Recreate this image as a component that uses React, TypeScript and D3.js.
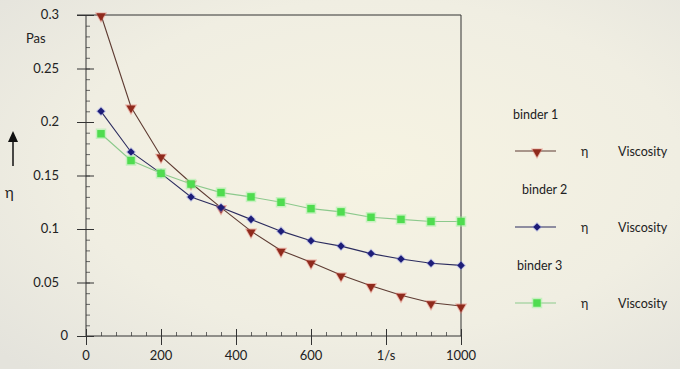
import { useEffect, useRef } from "react";
import { scaleLinear, line, select, axisLeft, axisBottom, range, symbol, symbolTriangle, symbolDiamond2, symbolSquare } from "d3";

const shearRates = [40, 120, 200, 280, 360, 440, 520, 600, 680, 760, 840, 920, 1000];
const binder1 = [0.3, 0.214, 0.168, 0.143, 0.12, 0.098, 0.08, 0.069, 0.057, 0.047, 0.038, 0.031, 0.028];
const binder2 = [0.21, 0.172, 0.152, 0.13, 0.12, 0.109, 0.098, 0.089, 0.084, 0.077, 0.072, 0.068, 0.066];
const binder3 = [0.189, 0.164, 0.152, 0.142, 0.134, 0.13, 0.125, 0.119, 0.116, 0.111, 0.109, 0.107, 0.107];
const xTicks = [0, 200, 400, 600, 800, 1000];
const xTickLabels = ["0", "200", "400", "600", "1/s", "1000"];
const yTicks = [0, 0.05, 0.1, 0.15, 0.2, 0.25, 0.3];
const yTickLabels = ["0", "0.05", "0.1", "0.15", "0.2", "0.25", "0.3"];
const seriesNames = ["binder 1", "binder 2", "binder 3"];

const FONT = "Lato, 'Open Sans', sans-serif";
const W = 680;
const H = 369;

const x = scaleLinear().domain([0, 1000]).range([86, 461]);
const y = scaleLinear().domain([0, 0.3]).range([336, 15]);

const series = [
  { name: seriesNames[0], values: binder1, line: "#5e3b32", fill: "#8f2a1c", glow: "#e0645a", shape: "tri" },
  { name: seriesNames[1], values: binder2, line: "#2b2b5e", fill: "#1d1d78", glow: "#7e86e8", shape: "dia" },
  { name: seriesNames[2], values: binder3, line: "#8cc98c", fill: "#4fdc4f", glow: "#9cf29c", shape: "sq" },
];

function Marker({ shape, cx, cy, fill, glow }) {
  let d;
  if (shape === "tri") {
    d = symbol(symbolTriangle, 36)();
    return (
      <g transform={`translate(${cx},${cy + 1}) rotate(180)`}>
        <path d={d} fill={glow} opacity={0.45} transform="scale(1.35)" />
        <path d={d} fill={fill} />
      </g>
    );
  }
  if (shape === "dia") {
    d = symbol(symbolDiamond2, 36)();
    return (
      <g transform={`translate(${cx},${cy})`}>
        <path d={d} fill={glow} opacity={0.4} transform="scale(1.35)" />
        <path d={d} fill={fill} />
      </g>
    );
  }
  d = symbol(symbolSquare, 56)();
  return (
    <g transform={`translate(${cx},${cy})`}>
      <path d={d} fill={glow} opacity={0.5} transform="scale(1.4)" />
      <path d={d} fill={fill} />
    </g>
  );
}

function YAxis() {
  const ref = useRef(null);
  useEffect(() => {
    const g = select(ref.current);
    g.selectAll("*").remove();
    // minor ticks (inside)
    g.append("g")
      .call(axisLeft(y).tickValues(range(0, 0.301, 0.01)).tickSize(-4).tickFormat(() => ""))
      .call((s) => s.select(".domain").remove())
      .selectAll("line").attr("stroke", "#444").attr("stroke-width", 0.8);
    // major ticks crossing the axis
    g.append("g")
      .call(axisLeft(y).tickValues(yTicks).tickSize(9).tickFormat(() => ""))
      .call((s) => s.select(".domain").attr("stroke", "#333").attr("d", `M0,${y(0)}V${y(0.3)}`))
      .selectAll("line").attr("x2", -9).attr("x1", 8).attr("stroke", "#333");
  }, []);
  return <g ref={ref} transform={`translate(${x(0)},0)`} />;
}

function XAxis() {
  const ref = useRef(null);
  useEffect(() => {
    const g = select(ref.current);
    g.selectAll("*").remove();
    g.append("g")
      .call(axisBottom(x).tickValues(range(0, 1001, 40)).tickSize(-4).tickFormat(() => ""))
      .call((s) => s.select(".domain").remove())
      .selectAll("line").attr("stroke", "#444").attr("stroke-width", 0.8);
    g.append("g")
      .call(axisBottom(x).tickValues(xTicks).tickSize(9).tickFormat(() => ""))
      .call((s) => s.select(".domain").attr("stroke", "#333").attr("d", `M${x(0)},0H${x(1000)}`))
      .selectAll("line").attr("y1", -7).attr("y2", 9).attr("stroke", "#333");
  }, []);
  return <g ref={ref} transform={`translate(0,${y(0)})`} />;
}

export default function App() {
  const lineGen = line<number>()
    .x((_, i) => x(shearRates[i]))
    .y((v) => y(v));

  const legendY = [151, 227, 303];
  const legendTitleY = [119, 194, 270];
  const legendTitleX = [513, 522, 517];

  return (
    <svg width={W} height={H} style={{ position: "absolute", left: 0, top: 0 }} fontFamily={FONT}>
      <defs>
        <radialGradient id="bg" cx="0.55" cy="0.45" r="0.75">
          <stop offset="0" stopColor="#f6f3e2" />
          <stop offset="0.6" stopColor="#f0eee2" />
          <stop offset="1" stopColor="#e4e3dc" />
        </radialGradient>
      </defs>
      <rect width={W} height={H} fill="url(#bg)" />

      {/* frame: top and right */}
      <line x1={77} x2={x(1000)} y1={y(0.3)} y2={y(0.3)} stroke="#333" />
      <line x1={x(1000)} x2={x(1000)} y1={y(0.3)} y2={y(0)} stroke="#333" />

      <YAxis />
      <XAxis />

      {yTicks.map((t, i) => (
        <text key={t} x={t === 0 ? 68 : 59} y={y(t) + 4} textAnchor="end" fontSize={13} fill="#222">
          {yTickLabels[i]}
        </text>
      ))}
      {xTicks.map((t, i) => (
        <text key={t} x={x(t)} y={360} textAnchor="middle" fontSize={13} fill="#222">
          {xTickLabels[i]}
        </text>
      ))}

      <text x={26} y={43} fontSize={13} fill="#222">Pas</text>
      <text x={5} y={198} fontSize={15} fill="#222">η</text>
      <line x1={13} x2={13} y1={166} y2={140} stroke="#111" strokeWidth={1.5} />
      <path d="M8,142 L13,131 L18,142 Z" fill="#111" />

      {series.map((s) => (
        <g key={s.name}>
          <path d={lineGen(s.values) || ""} fill="none" stroke={s.line} strokeWidth={1.1} />
          {s.values.map((v, i) => (
            <Marker key={i} shape={s.shape} cx={x(shearRates[i])} cy={y(v)} fill={s.fill} glow={s.glow} />
          ))}
        </g>
      ))}

      {series.map((s, i) => (
        <g key={`leg-${s.name}`}>
          <text x={legendTitleX[i]} y={legendTitleY[i]} fontSize={12.5} fill="#222">{s.name}</text>
          <line x1={515} x2={556} y1={legendY[i]} y2={legendY[i]} stroke={s.line} strokeWidth={1.1} />
          <Marker shape={s.shape} cx={537} cy={legendY[i]} fill={s.fill} glow={s.glow} />
          <text x={581} y={legendY[i] + 5} fontSize={12.5} fill="#222">η</text>
          <text x={618} y={legendY[i] + 5} fontSize={12.5} fill="#222">Viscosity</text>
        </g>
      ))}
    </svg>
  );
}
